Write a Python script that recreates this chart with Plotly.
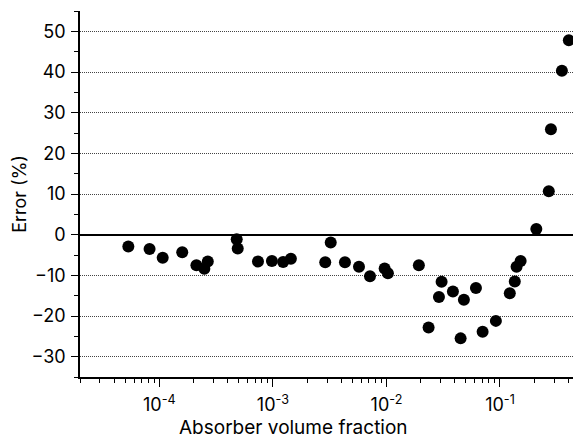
import numpy as np
import plotly.graph_objects as go

# Absorber volume fraction (x) and relative error in percent (y)
volume_fraction = [
    5.33e-5, 8.2e-5, 1.07e-4, 1.59e-4, 2.12e-4, 2.49e-4, 2.67e-4,
    4.80e-4, 4.90e-4, 7.39e-4, 9.8e-4, 1.23e-3, 1.44e-3,
    2.89e-3, 3.23e-3, 4.31e-3, 5.73e-3, 7.16e-3, 9.64e-3, 1.03e-2,
    1.93e-2, 2.35e-2, 2.90e-2, 3.06e-2, 3.85e-2, 4.50e-2, 4.81e-2,
    6.14e-2, 7.03e-2, 9.2e-2, 0.122, 0.135, 0.140, 0.152,
    0.209, 0.269, 0.281, 0.351, 0.404,
]
error_pct = [
    -2.9, -3.5, -5.7, -4.3, -7.5, -8.4, -6.6,
    -1.1, -3.4, -6.6, -6.5, -6.7, -5.9,
    -6.8, -1.9, -6.8, -7.9, -10.2, -8.3, -9.5,
    -7.5, -22.8, -15.3, -11.6, -14.0, -25.5, -16.0,
    -13.1, -23.9, -21.2, -14.4, -11.5, -7.9, -6.5,
    1.4, 10.7, 25.9, 40.3, 47.8,
]

x_range = [np.log10(2e-5), -0.357]
y_range = [-35, 55]

major_x = [1e-4, 1e-3, 1e-2, 1e-1]
major_x_text = ["10<sup>-4</sup>", "10<sup>-3</sup>", "10<sup>-2</sup>", "10<sup>-1</sup>"]
minor_x = [m * 10.0 ** k for k in range(-5, 0) for m in range(2, 10)]

font_family = "Inter, Liberation Sans, Arial, sans-serif"
font_size = 18

fig = go.Figure()
fig.add_trace(go.Scatter(
    x=volume_fraction, y=error_pct, mode="markers",
    marker=dict(color="black", size=12, line=dict(width=0)),
    showlegend=False,
))

fig.update_layout(
    width=573, height=439,
    margin=dict(l=80, r=0, t=11, b=62),
    paper_bgcolor="white", plot_bgcolor="white",
    font=dict(family=font_family, size=font_size, color="black"),
    xaxis=dict(
        type="log", range=x_range,
        tickmode="array", tickvals=major_x, ticktext=major_x_text,
        ticks="outside", ticklen=8, tickwidth=1.2, tickcolor="black",
        ticklabelstandoff=3,
        minor=dict(tickmode="array", tickvals=minor_x, ticks="outside",
                   ticklen=4, tickwidth=1, tickcolor="black", showgrid=False),
        showline=True, linecolor="black", linewidth=1.5,
        showgrid=False, zeroline=False,
        tickfont=dict(size=font_size),
    ),
    xaxis2=dict(
        type="log", range=x_range, overlaying="x", side="top", anchor="y",
        tickmode="array", tickvals=major_x, showticklabels=False,
        ticks="inside", ticklen=7, tickwidth=1.2, tickcolor="black",
        minor=dict(tickmode="array", tickvals=minor_x, ticks="inside",
                   ticklen=4, tickwidth=1, tickcolor="black", showgrid=False),
        showline=True, linecolor="black", linewidth=1.5,
        showgrid=False, zeroline=False,
    ),
    yaxis=dict(
        range=y_range, tickmode="linear", tick0=0, dtick=10,
        ticks="outside", ticklen=7, tickwidth=1.2, tickcolor="black",
        ticklabelstandoff=2,
        minor=dict(dtick=5, tick0=0, ticks="outside", ticklen=4,
                   tickwidth=1, tickcolor="black", showgrid=False),
        showline=True, linecolor="black", linewidth=1.5,
        showgrid=True, gridcolor="#444444", gridwidth=1, griddash="1px,1px",
        zeroline=True, zerolinecolor="black", zerolinewidth=1.5,
        tickfont=dict(size=font_size),
    ),
    annotations=[
        dict(text="Absorber volume fraction", xref="paper", yref="paper",
             x=0.433, y=0, yshift=-50, xanchor="center", yanchor="middle",
             showarrow=False, font=dict(size=19)),
        dict(text="Error (%)", xref="paper", yref="paper",
             x=-0.124, y=0.5, xanchor="center", yanchor="middle",
             textangle=-90, showarrow=False, font=dict(size=font_size)),
    ],
)

fig.write_html("out.html")
